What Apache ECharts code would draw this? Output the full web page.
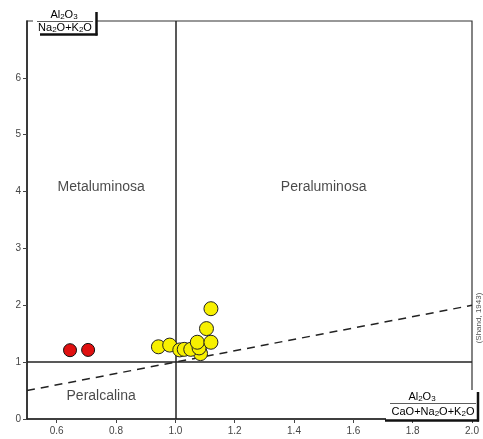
<!DOCTYPE html>
<html>
<head>
<meta charset="utf-8">
<script src="https://cdn.jsdelivr.net/npm/echarts@6/dist/echarts.min.js"></script>
<style>
  html, body { margin: 0; padding: 0; background: #fff; }
  #chart { width: 483px; height: 439px; }
</style>
</head>
<body>
<div id="chart"></div>
<script>
// Shand (1943) alumina saturation diagram: A/CNK (x) vs A/NK (y)
const xTicks = [0.6, 0.8, 1.0, 1.2, 1.4, 1.6, 1.8, 2.0];
const yTicks = [0, 1, 2, 3, 4, 5, 6];

// Red samples
const redX = [0.645, 0.706];
const redY = [1.21, 1.215];

// Yellow samples
const yellowX = [0.943, 0.981, 1.082, 1.085, 1.015, 1.030, 1.052, 1.080, 1.074, 1.120, 1.105, 1.120];
const yellowY = [1.27, 1.30, 1.19, 1.15, 1.215, 1.225, 1.225, 1.25, 1.35, 1.35, 1.59, 1.94];

// Field names and where they sit
const fieldNames = ['Metaluminosa', 'Peraluminosa', 'Peralcalina'];
const fieldX = [0.75, 1.50, 0.75];
const fieldY = [4.08, 4.08, 0.40];

// Shand line A/NK = A/CNK
const shandX = [0.5, 2.0];
const shandY = [0.5, 2.0];

const zip = (xs, ys) => xs.map((x, i) => [x, ys[i]]);

const chart = echarts.init(document.getElementById('chart'), null, { renderer: 'canvas' });

const FONT = '"Liberation Sans", Arial, sans-serif';
const rich = {
  n: { fontSize: 11, fontFamily: FONT, color: '#222' },
  s: { fontSize: 8, fontFamily: FONT, color: '#222', padding: [3, 0, 0, 0] }
};

chart.setOption({
  animation: false,
  backgroundColor: '#fff',
  grid: {
    left: 27, right: 11, top: 21, bottom: 20,
    show: true, borderColor: '#333', borderWidth: 1.2
  },
  xAxis: {
    type: 'value', min: 0.5, max: 2.0,
    axisLine: { onZero: false, lineStyle: { color: '#222', width: 1.5 } },
    axisTick: { show: true, length: 4, customValues: xTicks, lineStyle: { color: '#444' } },
    axisLabel: {
      customValues: xTicks, fontSize: 10, color: '#444', fontFamily: FONT, margin: 7,
      formatter: v => v.toFixed(1)
    },
    splitLine: { show: false }
  },
  yAxis: {
    type: 'value', min: 0, max: 7,
    axisLine: { show: true, onZero: false, lineStyle: { color: '#222', width: 1.5 } },
    axisTick: { show: true, length: 4, customValues: yTicks, lineStyle: { color: '#444' } },
    axisLabel: { customValues: yTicks, fontSize: 10, color: '#444', fontFamily: FONT, margin: 6 },
    splitLine: { show: false }
  },
  series: [
    {
      name: 'Shand',
      type: 'line',
      data: zip(shandX, shandY),
      symbol: 'none',
      lineStyle: { color: '#222', width: 1.5, type: [8, 6] },
      markLine: {
        silent: true,
        symbol: 'none',
        label: { show: false },
        lineStyle: { color: '#222', width: 1.5, type: 'solid' },
        data: [{ xAxis: 1.0 }, { yAxis: 1.0 }]
      },
      z: 2
    },
    {
      name: 'fields',
      type: 'scatter',
      symbolSize: 0,
      data: fieldNames.map((n, i) => ({ value: [fieldX[i], fieldY[i]], name: n })),
      label: {
        show: true, position: 'inside', formatter: p => p.name,
        fontSize: 14, color: '#1a1a1a', fontFamily: FONT
      },
      z: 3
    },
    {
      name: 'red',
      type: 'scatter',
      data: zip(redX, redY),
      symbolSize: 13,
      itemStyle: { color: '#e01010', borderColor: '#111', borderWidth: 1, opacity: 1 },
      z: 5
    },
    {
      name: 'yellow',
      type: 'scatter',
      data: zip(yellowX, yellowY),
      symbolSize: 14,
      itemStyle: { color: '#f7f000', borderColor: '#222', borderWidth: 1, opacity: 1 },
      z: 5
    }
  ],
  graphic: [
    // y-axis title box
    { type: 'rect', shape: { x: 33, y: 4, width: 63, height: 30 }, style: { fill: '#fff' }, z: 10 },
    { type: 'line', shape: { x1: 96.5, y1: 12, x2: 96.5, y2: 35.5 }, style: { stroke: '#111', lineWidth: 2.5 }, z: 11 },
    { type: 'line', shape: { x1: 40, y1: 34.5, x2: 97.5, y2: 34.5 }, style: { stroke: '#111', lineWidth: 2.5 }, z: 11 },
    { type: 'line', shape: { x1: 37, y1: 21.5, x2: 93, y2: 21.5 }, style: { stroke: '#333', lineWidth: 0.8 }, z: 11 },
    { type: 'text', x: 64, y: 15, z: 11, style: { text: '{n|Al}{s|2}{n|O}{s|3}', rich: rich, align: 'center', verticalAlign: 'middle' } },
    { type: 'text', x: 65, y: 28, z: 11, style: { text: '{n|Na}{s|2}{n|O+K}{s|2}{n|O}', rich: rich, align: 'center', verticalAlign: 'middle' } },
    // x-axis title box
    { type: 'rect', shape: { x: 386, y: 390, width: 91, height: 30 }, style: { fill: '#fff' }, z: 10 },
    { type: 'line', shape: { x1: 478, y1: 392, x2: 478, y2: 421.5 }, style: { stroke: '#111', lineWidth: 2.5 }, z: 11 },
    { type: 'line', shape: { x1: 385, y1: 420.5, x2: 479, y2: 420.5 }, style: { stroke: '#111', lineWidth: 2.5 }, z: 11 },
    { type: 'line', shape: { x1: 390, y1: 403.5, x2: 476, y2: 403.5 }, style: { stroke: '#333', lineWidth: 0.8 }, z: 11 },
    { type: 'text', x: 422, y: 397, z: 11, style: { text: '{n|Al}{s|2}{n|O}{s|3}', rich: rich, align: 'center', verticalAlign: 'middle' } },
    { type: 'text', x: 433, y: 412, z: 11, style: { text: '{n|CaO+Na}{s|2}{n|O+K}{s|2}{n|O}', rich: rich, align: 'center', verticalAlign: 'middle' } },
    // source note
    { type: 'text', x: 479, y: 318, rotation: Math.PI / 2, z: 11,
      style: { text: '(Shand, 1943)', fontSize: 8, fill: '#555', fontFamily: FONT, align: 'center', verticalAlign: 'middle' } }
  ]
});
</script>
</body>
</html>
